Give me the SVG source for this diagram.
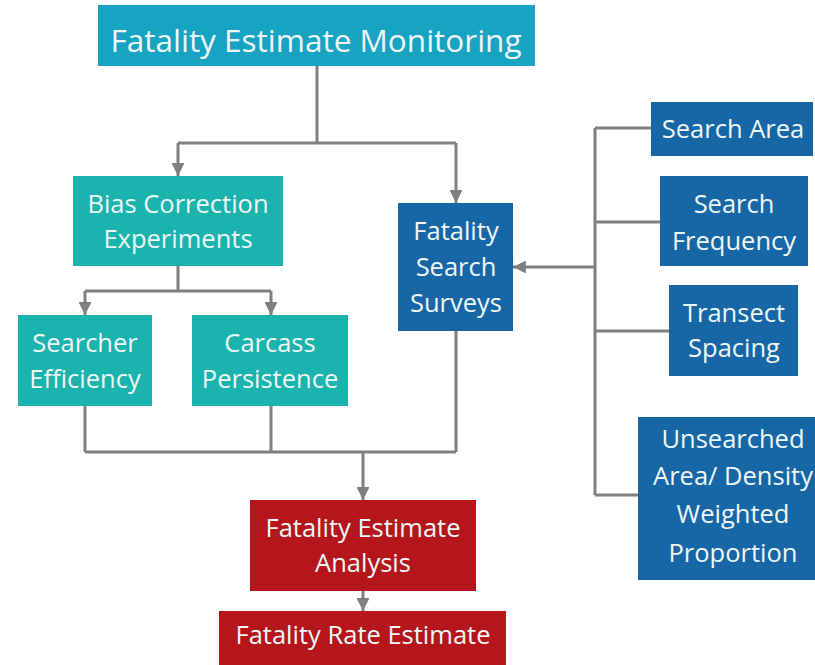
<svg xmlns="http://www.w3.org/2000/svg" width="815" height="665" viewBox="0 0 815 665">
<style>
text{font-family:"Open Sans","Noto Sans",sans-serif;fill:#eef6f6;text-anchor:middle;font-size:25.5px}
.t{font-size:31.5px}
.cyan{fill:#17a3c2}
.teal{fill:#1ab3ad}
.blue{fill:#1767a6}
.red{fill:#b5161b}
.ln{fill:none;stroke:#7f7f7f;stroke-width:3}
</style>
<defs>
<marker id="ah" viewBox="0 0 10 10" refX="10" refY="5" markerWidth="4.3" markerHeight="4.3" orient="auto" markerUnits="strokeWidth">
<path d="M0,0 L10,5 L0,10 Z" fill="#7f7f7f"/>
</marker>
</defs>
<rect width="815" height="665" fill="#ffffff"/>
<g id="connectors">
<path class="ln" d="M317,66 V143"/>
<path class="ln" d="M178,143 H456"/>
<path class="ln" d="M178,143 V176" marker-end="url(#ah)"/>
<path class="ln" d="M456,143 V203" marker-end="url(#ah)"/>
<path class="ln" d="M178,266 V291 M85,291 H271"/>
<path class="ln" d="M85,291 V315" marker-end="url(#ah)"/>
<path class="ln" d="M271,291 V315" marker-end="url(#ah)"/>
<path class="ln" d="M85,406 V452 M271,406 V452 M456,331 V452 M85,452 H456"/>
<path class="ln" d="M363,452 V500" marker-end="url(#ah)"/>
<path class="ln" d="M363,591 V611" marker-end="url(#ah)"/>
<path class="ln" d="M595,128 V495 M595,128 H651 M595,222 H660 M595,331 H669 M595,495 H638"/>
<path class="ln" d="M595,267 H513" marker-end="url(#ah)"/>
</g>
<g id="monitoring"><rect class="cyan" x="98" y="5" width="437" height="61"/><text class="t" x="316" y="52">Fatality Estimate Monitoring</text></g>
<g id="bias"><rect class="teal" x="73" y="176" width="210" height="90"/><text x="178" y="213">Bias Correction</text><text x="178" y="248">Experiments</text></g>
<g id="surveys"><rect class="blue" x="398" y="203" width="115" height="128"/><text x="456" y="240">Fatality</text><text x="456" y="276">Search</text><text x="456" y="312">Surveys</text></g>
<g id="searcher"><rect class="teal" x="18" y="315" width="134" height="91"/><text x="85" y="352">Searcher</text><text x="85" y="388">Efficiency</text></g>
<g id="carcass"><rect class="teal" x="192" y="315" width="156" height="91"/><text x="270" y="352">Carcass</text><text x="270" y="388">Persistence</text></g>
<g id="searcharea"><rect class="blue" x="651" y="102" width="162" height="54"/><text x="733" y="138">Search Area</text></g>
<g id="frequency"><rect class="blue" x="660" y="176" width="148" height="90"/><text x="734" y="213">Search</text><text x="734" y="250">Frequency</text></g>
<g id="transect"><rect class="blue" x="669" y="285" width="129" height="91"/><text x="734" y="322">Transect</text><text x="734" y="357">Spacing</text></g>
<g id="unsearched"><rect class="blue" x="638" y="417" width="177" height="163"/><text x="733" y="448">Unsearched</text><text x="733" y="485">Area/ Density</text><text x="733" y="523">Weighted</text><text x="733" y="562">Proportion</text></g>
<g id="analysis"><rect class="red" x="250" y="500" width="226" height="91"/><text x="363" y="537">Fatality Estimate</text><text x="363" y="572">Analysis</text></g>
<g id="rate"><rect class="red" x="219" y="611" width="287" height="54"/><text x="363" y="644">Fatality Rate Estimate</text></g>
</svg>
